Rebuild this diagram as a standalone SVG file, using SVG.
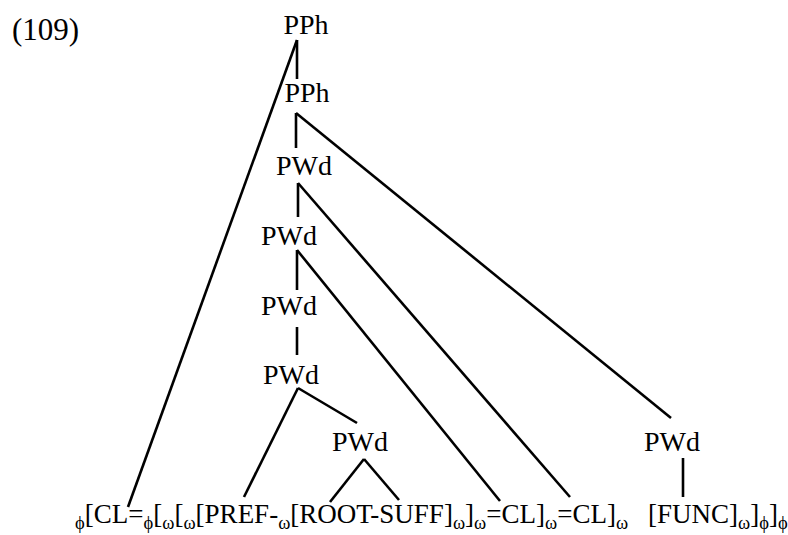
<svg xmlns="http://www.w3.org/2000/svg" width="788" height="535" viewBox="0 0 788 535">
  <style>
    text { font-family: "Liberation Serif", "DejaVu Serif", serif; fill: #000; }
    .lbl { font-size: 28px; text-anchor: middle; }
    .num { font-size: 31px; }
    .str { font-size: 27px; }
    .sub { font-size: 18.5px; }
    .edge { stroke: #000; stroke-width: 2.6; stroke-linecap: butt; fill: none; }
  </style>
  <rect width="788" height="535" fill="#fff"/>

  <!-- example number -->
  <text class="num" x="12" y="40">(109)</text>

  <!-- tree edges -->
  <g id="connectors">
    <line class="edge" x1="297" y1="40" x2="297" y2="79"/>
    <line class="edge" x1="297" y1="40" x2="128" y2="507"/>
    <line class="edge" x1="296" y1="113" x2="296" y2="148"/>
    <line class="edge" x1="296" y1="113" x2="671" y2="418"/>
    <line class="edge" x1="298" y1="183" x2="298" y2="217"/>
    <line class="edge" x1="298" y1="183" x2="570" y2="497"/>
    <line class="edge" x1="297" y1="250" x2="297" y2="290"/>
    <line class="edge" x1="297" y1="250" x2="500" y2="501"/>
    <line class="edge" x1="297" y1="327" x2="297" y2="355"/>
    <line class="edge" x1="298" y1="388" x2="244" y2="497"/>
    <line class="edge" x1="298" y1="388" x2="357" y2="423"/>
    <line class="edge" x1="364" y1="459" x2="330" y2="502"/>
    <line class="edge" x1="364" y1="459" x2="399" y2="500"/>
    <line class="edge" x1="683" y1="458" x2="683" y2="497"/>
  </g>

  <!-- tree nodes -->
  <g id="pph-top"><text class="lbl" x="306" y="34">PPh</text></g>
  <g id="pph-2"><text class="lbl" x="307" y="102">PPh</text></g>
  <g id="pwd-1"><text class="lbl" x="304" y="175">PWd</text></g>
  <g id="pwd-2"><text class="lbl" x="289" y="245">PWd</text></g>
  <g id="pwd-3"><text class="lbl" x="289" y="315">PWd</text></g>
  <g id="pwd-4"><text class="lbl" x="291" y="384">PWd</text></g>
  <g id="pwd-5"><text class="lbl" x="360" y="451">PWd</text></g>
  <g id="pwd-func"><text class="lbl" x="672" y="451">PWd</text></g>

  <!-- bracketed string -->
  <g id="string">
    <text class="str" x="75" y="523"><tspan class="sub" dy="6">ϕ</tspan><tspan dy="-6">[CL=</tspan><tspan class="sub" dy="6">ϕ</tspan><tspan dy="-6">[</tspan><tspan class="sub" dy="6">ω</tspan><tspan dy="-6">[</tspan><tspan class="sub" dy="6">ω</tspan><tspan dy="-6">[PREF-</tspan><tspan class="sub" dy="6">ω</tspan><tspan dy="-6">[ROOT-SUFF]</tspan><tspan class="sub" dy="6">ω</tspan><tspan dy="-6">]</tspan><tspan class="sub" dy="6">ω</tspan><tspan dy="-6">=CL]</tspan><tspan class="sub" dy="6">ω</tspan><tspan dy="-6">=CL]</tspan><tspan class="sub" dy="6">ω</tspan><tspan dy="-6" x="648">[FUNC]</tspan><tspan class="sub" dy="6">ω</tspan><tspan dy="-6">]</tspan><tspan class="sub" dy="6">ϕ</tspan><tspan dy="-6">]</tspan><tspan class="sub" dy="6">ϕ</tspan></text>
  </g>
</svg>
